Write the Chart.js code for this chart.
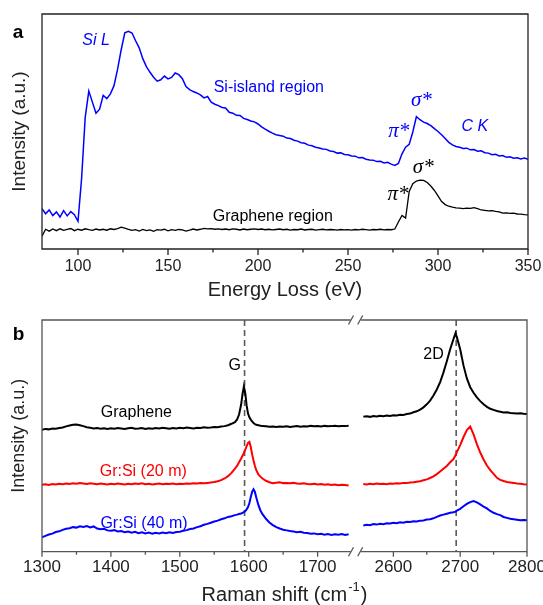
<!DOCTYPE html>
<html>
<head>
<meta charset="utf-8">
<script src="https://cdn.jsdelivr.net/npm/chart.js@4.4.1/dist/chart.umd.min.js"></script>
<style>
  body { margin: 0; background: #fff; }
  #wrap { position: relative; width: 543px; height: 605px; }
  canvas { position: absolute; left: 0; }
</style>
</head>
<body>
<div id="wrap">
  <canvas id="chartA" width="543" height="300" style="top:0"></canvas>
  <canvas id="chartBL" width="543" height="305" style="top:300px"></canvas>
  <canvas id="chartBR" width="543" height="305" style="top:300px"></canvas>
</div>
<script>
// ---- panel a: EELS spectra ----
const energy = [
  80, 82, 84, 86, 88, 90, 92, 94, 96, 98,
  100, 102, 104, 106, 108, 110, 112, 114, 116, 118,
  120, 122, 124, 126, 128, 130, 132, 134, 136, 138,
  140, 142, 144, 146, 148, 150, 152, 154, 156, 158,
  160, 162, 164, 166, 168, 170, 172, 174, 176, 178,
  180, 182, 184, 186, 188, 190, 192, 194, 196, 198,
  200, 202, 204, 206, 208, 210, 212, 214, 216, 218,
  220, 222, 224, 226, 228, 230, 232, 234, 236, 238,
  240, 242, 244, 246, 248, 250, 252, 254, 256, 258,
  260, 262, 264, 266, 268, 270, 272, 274, 276, 278,
  280, 282, 284, 286, 288, 290, 292, 294, 296, 298,
  300, 302, 304, 306, 308, 310, 312, 314, 316, 318,
  320, 322, 324, 326, 328, 330, 332, 334, 336, 338,
  340, 342, 344, 346, 348, 350
]
const siIsland = [
  17.2, 15.0, 16.6, 14.2, 15.8, 13.6, 16.3, 14.1, 15.9, 14.6,
  11.8, 30.0, 56.0, 67.2, 62.5, 57.8, 59.5, 65.4, 64.0, 66.0,
  69.5, 76.5, 84.8, 92.0, 92.6, 91.9, 88.6, 85.6, 81.0, 77.6,
  75.2, 73.1, 71.4, 72.0, 73.6, 72.4, 73.0, 74.9, 74.2, 72.5,
  69.1, 67.8, 67.0, 66.4, 65.6, 64.3, 64.9, 62.5, 61.6, 61.0,
  60.2, 60.0, 58.2, 57.8, 56.9, 56.8, 55.6, 55.1, 54.5, 54.1,
  53.2, 52.0, 51.0, 50.1, 49.3, 48.6, 48.3, 48.0, 47.2, 47.0,
  46.3, 45.9, 45.2, 45.0, 44.2, 43.9, 43.3, 43.0, 42.6, 42.4,
  41.7, 41.5, 40.8, 40.9, 40.2, 40.1, 39.6, 39.5, 38.8, 38.9,
  38.2, 37.9, 37.8, 37.2, 37.3, 36.6, 36.9, 36.1, 35.6, 36.4,
  40.5, 43.3, 44.5, 49.8, 56.3, 55.0, 54.0, 53.4, 52.5, 51.2,
  50.0, 48.6, 47.0, 45.4, 44.3, 43.6, 43.3, 42.8, 42.9, 42.2,
  42.3, 41.6, 41.8, 41.0, 40.8, 40.1, 40.3, 39.6, 39.8, 39.0,
  39.2, 38.6, 38.8, 38.3, 38.7, 38.2
]
const grapheneEels = [
  5.5, 8.4, 7.6, 8.5, 7.8, 8.6, 7.9, 8.3, 8.7, 7.8,
  8.4, 8.0, 8.6, 8.2, 7.9, 8.5, 8.1, 8.4, 8.0, 8.6,
  8.3, 8.7, 9.3, 8.9, 8.4, 7.9, 8.2, 7.6, 8.3, 7.8,
  8.1, 7.5, 8.2, 8.0, 8.4, 7.7, 8.2, 7.9, 8.3, 8.1,
  7.6, 8.0, 8.5, 8.1, 8.4, 8.8, 8.6, 8.7, 8.4, 8.6,
  8.3, 8.5, 8.2, 8.6, 8.4, 8.1, 8.5, 8.2, 8.4, 8.6,
  8.3, 8.5, 8.2, 8.4, 8.1, 8.3, 8.5, 8.2, 8.4, 8.0,
  8.3, 8.2, 8.5, 8.1, 8.3, 8.4, 8.0, 8.2, 8.4, 8.1,
  8.3, 8.2, 8.0, 8.3, 8.1, 8.2, 8.0, 8.3, 8.1, 8.4,
  8.2, 8.0, 8.3, 8.2, 8.4, 8.1, 8.3, 8.2, 8.5, 11.5,
  14.3, 13.2, 24.5, 27.8, 28.9, 29.3, 29.2, 28.3, 26.8, 24.9,
  22.6, 20.2, 18.9, 18.2, 17.8, 17.5, 17.4, 17.2, 17.4, 17.3,
  17.6, 17.2, 16.6, 16.4, 16.2, 16.3, 16.0, 15.8, 15.3, 15.4,
  15.2, 15.3, 14.9, 14.8, 14.6, 14.5
]
const energyTicks = [100, 150, 200, 250, 300, 350]
const energyMinor = [125, 175, 225, 275, 325]

// ---- panel b: Raman spectra (broken axis) ----
const shiftLeft = [
  1300, 1305, 1310, 1315, 1320, 1325, 1330, 1335, 1340, 1345,
  1350, 1355, 1360, 1365, 1370, 1375, 1380, 1385, 1390, 1395,
  1400, 1405, 1410, 1415, 1420, 1425, 1430, 1435, 1440, 1445,
  1450, 1455, 1460, 1465, 1470, 1475, 1480, 1485, 1490, 1495,
  1500, 1505, 1510, 1515, 1520, 1525, 1530, 1535, 1540, 1545,
  1550, 1555, 1560, 1565, 1570, 1575,
  1580, 1583, 1586, 1589, 1591, 1593, 1595, 1597, 1599, 1601,
  1603, 1605, 1607, 1609, 1611, 1614, 1617, 1620,
  1625, 1630, 1635, 1640, 1645, 1650, 1655, 1660, 1665, 1670,
  1675, 1680, 1685, 1690, 1695, 1700, 1705, 1710, 1715, 1720,
  1725, 1730, 1735, 1740, 1745
]
const grapheneLeft = [
  52.6, 53.0, 52.8, 53.2, 53.1, 53.4, 53.6, 54.1, 54.5, 54.8,
  54.9, 54.6, 54.2, 53.7, 53.5, 53.2, 53.4, 53.1, 53.3, 53.0,
  53.3, 53.1, 53.4, 53.2, 53.0, 53.3, 53.5, 53.1, 53.2, 53.4,
  53.0, 53.3, 53.1, 53.4, 53.2, 53.5, 53.3, 53.1, 53.4, 53.2,
  53.5, 53.3, 53.6, 53.4, 53.2, 53.5, 53.4, 53.7, 53.5, 53.6,
  53.8, 53.7, 54.0, 54.2, 54.6, 55.2,
  55.9, 57.0, 59.2, 63.5, 68.0, 71.3, 68.4, 63.0, 59.6, 58.0,
  57.0, 56.2, 55.5, 55.1, 54.8, 54.6, 54.4, 54.2,
  54.1, 53.9, 54.0, 53.8, 54.0, 53.9, 54.1, 53.8, 54.0, 54.2,
  53.9, 54.1, 54.0, 54.3, 54.1, 54.2, 54.0, 54.3, 54.1, 54.2,
  54.4, 54.1, 54.3, 54.2, 54.4
]
const grSi20Left = [
  28.9, 29.1, 28.8, 29.2, 29.0, 29.3, 29.1, 29.4, 29.2, 29.5,
  29.3, 29.6, 29.4, 29.2, 29.5, 29.3, 29.1, 29.4, 29.2, 29.0,
  29.3, 29.1, 29.4, 29.2, 29.0, 29.3, 29.1, 29.4, 29.2, 29.5,
  29.1, 29.3, 29.0, 29.2, 29.4, 29.1, 29.3, 29.2, 29.4, 29.1,
  29.3, 29.2, 29.4, 29.3, 29.5, 29.4, 29.6, 29.5, 29.7, 29.9,
  30.1, 30.4, 30.9, 31.6, 32.6, 34.0,
  35.8, 37.0, 38.6, 40.2, 41.4, 42.6, 44.0, 45.6, 47.0, 47.4,
  45.2, 42.0, 39.4, 37.0, 35.2, 33.4, 32.4, 31.6,
  30.6, 30.0, 29.6, 29.8, 30.0, 29.6, 29.7, 29.5, 29.7, 29.4,
  29.3, 29.5, 29.2, 29.1, 29.3, 29.0, 29.2, 28.9, 29.1, 28.8,
  29.0, 28.7, 28.9, 28.8, 28.6
]
const grSi40Left = [
  6.2, 6.8, 7.4, 7.8, 8.5, 8.8, 9.4, 9.9, 10.1, 10.6,
  10.4, 11.0, 10.7, 11.1, 10.5, 10.9, 10.0, 9.7, 9.9, 9.2,
  9.0, 9.3, 8.7, 8.9, 8.4, 8.7, 8.2, 8.6, 8.0, 8.4,
  7.9, 8.3, 7.8, 8.2, 7.9, 8.3, 8.0, 8.4, 8.1, 8.5,
  8.6, 9.0, 9.3, 9.8, 10.0, 10.6, 11.0, 11.6, 12.0, 12.5,
  13.0, 13.4, 14.0, 14.4, 15.0, 15.3,
  15.8, 16.0, 16.3, 16.5, 16.8, 17.1, 17.6, 18.3, 19.3, 21.0,
  23.6, 25.9, 26.9, 25.8, 23.4, 20.2, 17.8, 16.2,
  14.2, 12.6, 11.5, 10.6, 10.0, 9.5, 9.2, 8.9, 8.7, 8.4,
  8.6, 8.2, 8.1, 7.8, 7.9, 7.5, 7.7, 7.3, 7.6, 7.2,
  7.5, 7.3, 7.6, 7.2, 7.5
]
const shiftRight = [
  2555, 2560, 2565, 2570, 2575, 2580, 2585, 2590, 2595, 2600,
  2605, 2610, 2615, 2620, 2625, 2630, 2635, 2640, 2645, 2650,
  2655, 2660, 2665, 2670, 2675, 2680, 2685, 2690,
  2693,
  2695, 2700, 2705, 2710, 2715, 2720, 2725, 2730, 2735, 2740,
  2745, 2750, 2755, 2760, 2765, 2770, 2775, 2780, 2785, 2790,
  2795, 2800
]
const grapheneRight = [
  58.3, 58.5, 58.2, 58.6, 58.4, 58.7, 58.5, 58.8, 58.6, 58.9,
  58.8, 59.1, 59.0, 59.4, 59.6, 60.2, 60.6, 61.3, 62.3, 63.6,
  65.2, 67.4, 70.0, 73.2, 77.4, 82.2, 87.4, 91.8,
  94.3,
  92.6, 87.4, 80.3, 74.8, 71.0, 68.6, 66.6, 65.0, 63.6, 62.5,
  61.7, 61.2, 60.7, 60.4, 60.1, 60.2, 59.9, 59.8, 59.6, 59.7,
  59.5, 59.4
]
const grSi20Right = [
  29.2, 29.0, 29.3, 29.1, 29.4, 29.2, 29.3, 29.1, 29.4, 29.3,
  29.5, 29.4, 29.7, 29.6, 29.9, 30.0, 30.2, 30.4, 30.8, 31.2,
  31.8, 32.5, 33.5, 34.6, 35.8, 37.0, 38.6, 40.0,
  41.6,
  43.0, 46.0, 49.5, 52.5, 54.0, 50.6, 46.4, 42.8, 39.8, 37.2,
  35.2, 33.6, 31.9, 31.0, 30.5, 30.1, 29.9, 29.7, 29.4, 29.3,
  29.1, 29.0
]
const grSi40Right = [
  11.3, 11.6, 11.4, 11.9, 11.7, 12.1, 11.9, 12.3, 12.2, 12.5,
  12.3, 12.7, 12.5, 12.9, 12.8, 13.1, 13.0, 13.4, 13.5, 13.9,
  14.0, 14.4, 15.0, 15.6, 16.0, 16.4, 16.8, 17.0,
  17.3,
  17.7, 18.5, 19.6, 20.6, 21.4, 21.9, 21.3, 20.4, 19.5, 18.7,
  17.6, 16.8, 16.2, 15.8, 15.0, 14.6, 14.2, 14.0, 13.8, 13.6,
  13.7, 13.6
]
const ticksLeft = [1300, 1400, 1500, 1600, 1700]
const minorLeft = [1350, 1450, 1550, 1650]
const ticksRight = [2600, 2700, 2800]
const minorRight = [2650, 2750]
const peakG = 1594
const peak2D = 2694

const FONT = "'Liberation Sans', Arial, sans-serif"
const SERIF = "'Liberation Serif', 'Times New Roman', serif"
const BLUE = '#0000ff'
const RED = '#ff0000'
const INK = '#222'

const notesA = [
    { text: 'Si L', x: 110, y: 88.5, color: BLUE, font: 'italic 16px ' + FONT },
    { text: 'Si-island region', x: 206, y: 68.5, color: BLUE, font: '16px ' + FONT },
    { text: 'σ*', x: 290.8, y: 63.4, color: BLUE, font: 'italic 21px ' + SERIF },
    { text: 'π*', x: 278.2, y: 49.8, color: BLUE, font: 'italic 21px ' + SERIF },
    { text: 'C K', x: 320.4, y: 52.3, color: BLUE, font: 'italic 16px ' + FONT },
    { text: 'σ*', x: 291.8, y: 34.5, color: '#000', font: 'italic 21px ' + SERIF },
    { text: 'π*', x: 277.8, y: 23, color: '#000', font: 'italic 21px ' + SERIF },
    { text: 'Graphene region', x: 208.2, y: 13.6, color: '#000', font: '16px ' + FONT }
]
const notesLeft = [
    { text: 'G', x: 1579.6, y: 80.3, color: '#000', font: '16px ' + FONT },
    { text: 'Graphene', x: 1437, y: 60, color: '#000', font: '16px ' + FONT },
    { text: 'Gr:Si (20 m)', x: 1447, y: 34.5, color: RED, font: '16px ' + FONT },
    { text: 'Gr:Si (40 m)', x: 1448, y: 12.3, color: BLUE, font: '16px ' + FONT }
]
const notesRight = [
    { text: '2D', x: 2660, y: 84.9, color: '#000', font: '16px ' + FONT }
]

function pts(xs, ys) {
    return xs.map((x, i) => ({ x: x, y: ys[i] }))
}

function line(xs, ys, color, width) {
    return { data: pts(xs, ys), borderColor: color, borderWidth: width, pointRadius: 0, tension: 0 }
}

// frame, outward ticks, break marks, dashed guide and text notes
function framePlugin(cfg) {
    return {
        id: 'frame',
        beforeDatasetsDraw(chart) {
            if (cfg.dashAt == null) return
            const { ctx, chartArea: a, scales: { x } } = chart
            const px = x.getPixelForValue(cfg.dashAt)
            ctx.save()
            ctx.strokeStyle = '#5a5a5a'
            ctx.lineWidth = 1.6
            ctx.setLineDash([6, 4])
            ctx.beginPath()
            ctx.moveTo(px, a.top)
            ctx.lineTo(px, a.bottom)
            ctx.stroke()
            ctx.restore()
        },
        afterDraw(chart) {
            const { ctx, chartArea: a, scales: { x, y } } = chart
            ctx.save()
            ctx.strokeStyle = cfg.color
            ctx.lineWidth = cfg.lineWidth
            ctx.lineCap = 'square'
            ctx.beginPath()
            if (cfg.sides.includes('t')) { ctx.moveTo(a.left, a.top); ctx.lineTo(a.right, a.top) }
            if (cfg.sides.includes('b')) { ctx.moveTo(a.left, a.bottom); ctx.lineTo(a.right, a.bottom) }
            if (cfg.sides.includes('l')) { ctx.moveTo(a.left, a.top); ctx.lineTo(a.left, a.bottom) }
            if (cfg.sides.includes('r')) { ctx.moveTo(a.right, a.top); ctx.lineTo(a.right, a.bottom) }
            ctx.stroke()

            ctx.lineCap = 'butt'
            ctx.beginPath()
            cfg.major.forEach(v => {
                const px = x.getPixelForValue(v)
                ctx.moveTo(px, a.bottom)
                ctx.lineTo(px, a.bottom + cfg.majorLen)
            })
            cfg.minor.forEach(v => {
                const px = x.getPixelForValue(v)
                ctx.moveTo(px, a.bottom)
                ctx.lineTo(px, a.bottom + cfg.minorLen)
            })
            if (cfg.breakAt) {
                const bx = cfg.breakAt === 'right' ? a.right + 1 : a.left - 1.5
                ;[a.top, a.bottom].forEach(yy => {
                    ctx.moveTo(bx - 2.5, yy + 4.5)
                    ctx.lineTo(bx + 2.5, yy - 4.5)
                })
            }
            ctx.stroke()

            ctx.textAlign = 'center'
            ctx.textBaseline = 'middle'
            cfg.notes.forEach(n => {
                ctx.fillStyle = n.color
                ctx.font = n.font
                ctx.fillText(n.text, x.getPixelForValue(n.x), y.getPixelForValue(n.y))
            })
            if (cfg.letter) {
                ctx.fillStyle = '#000'
                ctx.font = 'bold 19px ' + FONT
                ctx.fillText(cfg.letter.text, cfg.letter.x, cfg.letter.y)
            }
            if (cfg.extra) cfg.extra(ctx, chart)
            ctx.restore()
        }
    }
}

function baseOptions(pad, xMin, xMax, xTicks, yWidth, xHeight) {
    return {
        responsive: false,
        animation: false,
        devicePixelRatio: 1,
        layout: { padding: pad },
        plugins: { legend: { display: false }, tooltip: { enabled: false } },
        scales: {
            x: {
                type: 'linear',
                min: xMin,
                max: xMax,
                afterBuildTicks: s => { s.ticks = xTicks.map(v => ({ value: v })) },
                // fixed axis height, and no extra room for the end labels
                afterFit: s => {
                    s.height = xHeight
                    s.paddingLeft = 0
                    s.paddingRight = 0
                },
                grid: { display: false, drawTicks: false },
                border: { display: false },
                ticks: { color: INK, maxRotation: 0, autoSkip: false, callback: v => String(v) }
            },
            y: {
                min: 0,
                max: 100,
                display: yWidth > 0,
                afterFit: s => {
                    s.width = yWidth
                    s.paddingTop = 0
                    s.paddingBottom = 0
                },
                grid: { display: false, drawTicks: false },
                border: { display: false },
                ticks: { display: false }
            }
        }
    }
}

// panel a
const optA = baseOptions({ left: 0, right: 15, top: 14, bottom: 0 }, 80, 350, energyTicks, 42, 51)
optA.scales.x.ticks.font = { family: FONT, size: 16 }
optA.scales.x.ticks.padding = 8
optA.scales.x.title = { display: true, text: 'Energy Loss (eV)', color: INK, font: { family: FONT, size: 20, lineHeight: 1 }, padding: 0 }
optA.scales.y.title = { display: true, text: 'Intensity (a.u.)', color: INK, font: { family: FONT, size: 19, lineHeight: 1 }, padding: { top: 10.5, bottom: 0 } }

new Chart(document.getElementById('chartA'), {
    type: 'line',
    data: { datasets: [line(energy, siIsland, BLUE, 1.5), line(energy, grapheneEels, '#000', 1.3)] },
    options: optA,
    plugins: [framePlugin({
        sides: 'tblr', color: '#222', lineWidth: 1.3,
        major: energyTicks, minor: energyMinor, majorLen: 6, minorLen: 3.5,
        notes: notesA, letter: { text: 'a', x: 18, y: 33 }
    })]
})

// panel b, left segment
const optBL = baseOptions({ left: 0, right: 193, top: 20, bottom: 0 }, 1300, 1747, ticksLeft, 42, 53.3)
optBL.scales.x.ticks.font = { family: FONT, size: 17 }
optBL.scales.x.ticks.padding = 5
optBL.scales.y.title = { display: true, text: 'Intensity (a.u.)', color: INK, font: { family: FONT, size: 18, lineHeight: 1 }, padding: { top: 10.5, bottom: 0 } }

function ramanTitle(ctx) {
    const cx = 284.5, cy = 295
    const a = 'Raman shift (cm', sup = '-1', b = ')'
    ctx.fillStyle = INK
    ctx.textAlign = 'left'
    ctx.textBaseline = 'middle'
    ctx.font = '20px ' + FONT
    const wa = ctx.measureText(a).width, wb = ctx.measureText(b).width
    ctx.font = '13px ' + FONT
    const ws = ctx.measureText(sup).width
    let x0 = cx - (wa + ws + wb + 2) / 2
    ctx.font = '20px ' + FONT
    ctx.fillText(a, x0, cy)
    ctx.font = '13px ' + FONT
    ctx.fillText(sup, x0 + wa + 1, cy - 8)
    ctx.font = '20px ' + FONT
    ctx.fillText(b, x0 + wa + ws + 2, cy)
}

new Chart(document.getElementById('chartBL'), {
    type: 'line',
    data: { datasets: [
        line(shiftLeft, grapheneLeft, '#000', 2),
        line(shiftLeft, grSi20Left, RED, 2),
        line(shiftLeft, grSi40Left, BLUE, 2)
    ] },
    options: optBL,
    plugins: [framePlugin({
        sides: 'tbl', color: '#555', lineWidth: 1.3,
        major: ticksLeft, minor: minorLeft, majorLen: 5, minorLen: 3,
        breakAt: 'right', dashAt: peakG,
        notes: notesLeft, letter: { text: 'b', x: 18.6, y: 35 },
        extra: ramanTitle
    })]
})

// panel b, right segment
const optBR = baseOptions({ left: 361.7, right: 16, top: 20, bottom: 0 }, 2552.6, 2800, ticksRight, 0, 53.3)
optBR.scales.x.ticks.font = { family: FONT, size: 17 }
optBR.scales.x.ticks.padding = 5

new Chart(document.getElementById('chartBR'), {
    type: 'line',
    data: { datasets: [
        line(shiftRight, grapheneRight, '#000', 2),
        line(shiftRight, grSi20Right, RED, 2),
        line(shiftRight, grSi40Right, BLUE, 2)
    ] },
    options: optBR,
    plugins: [framePlugin({
        sides: 'tbr', color: '#555', lineWidth: 1.3,
        major: ticksRight, minor: minorRight, majorLen: 5, minorLen: 3,
        breakAt: 'left', dashAt: peak2D,
        notes: notesRight
    })]
})
</script>
</body>
</html>
